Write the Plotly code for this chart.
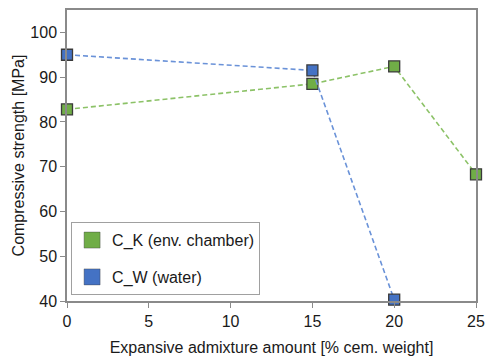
import plotly.graph_objects as go

# Compressive strength vs. expansive admixture dosage
ck_x = [0, 15, 20, 25]
ck_y = [82.8, 88.5, 92.4, 68.3]
cw_x = [0, 15, 20]
cw_y = [95.0, 91.5, 40.3]

ck_name = "C_K (env. chamber)"
cw_name = "C_W (water)"

green = "#70AD47"
blue = "#4472C4"
green_line = "#8CC267"
blue_line = "#6A92D8"
edge = "#3a3a3a"

x_ticks = [0, 5, 10, 15, 20, 25]
y_ticks = [40, 50, 60, 70, 80, 90, 100]

FONT = "Liberation Sans, Arial, sans-serif"

fig = go.Figure()

for xs, ys, col, lcol in [(ck_x, ck_y, green, green_line), (cw_x, cw_y, blue, blue_line)]:
    fig.add_trace(go.Scatter(
        x=xs, y=ys, mode="lines+markers", showlegend=False, cliponaxis=False,
        line=dict(color=lcol, width=1.6, dash="5px,3px"),
        marker=dict(symbol="square", size=11, color=col, line=dict(color=edge, width=1.3)),
    ))

# legend entries with larger swatches
for name, col, grp in [(ck_name, green, "k"), (cw_name, blue, "w")]:
    fig.add_trace(go.Scatter(
        x=[None], y=[None], mode="markers", name=name, legendgroup=grp,
        marker=dict(symbol="square", size=16, color=col,
                    line=dict(color="rgba(60,60,60,0.5)", width=0.8)),
    ))

axis_common = dict(
    showline=True, linecolor="#8a8a8a", linewidth=1.5, mirror=True,
    showgrid=False, zeroline=False, ticks="outside", ticklen=5,
    tickcolor="#8a8a8a", tickwidth=1.3, automargin=False,
    tickfont=dict(family=FONT, size=16, color="#1a1a1a"),
)

fig.update_layout(
    width=486, height=356,
    margin=dict(l=67, r=10, t=10, b=55),
    paper_bgcolor="white", plot_bgcolor="white",
    font=dict(family=FONT, size=16, color="#1a1a1a"),
    xaxis=dict(range=[0, 25], tickvals=x_ticks,
               title=dict(text="Expansive admixture amount [% cem. weight]",
                          font=dict(size=16), standoff=14),
               **axis_common),
    yaxis=dict(range=[40, 105], tickvals=y_ticks,
               title=dict(text="Compressive strength [MPa]", font=dict(size=16), standoff=2),
               **axis_common),
    legend=dict(x=0.01, y=0.02, xanchor="left", yanchor="bottom",
                bordercolor="#a0a0a0", borderwidth=1, bgcolor="white",
                font=dict(size=16), tracegroupgap=13, traceorder="grouped"),
)

fig.write_html("out.html")
